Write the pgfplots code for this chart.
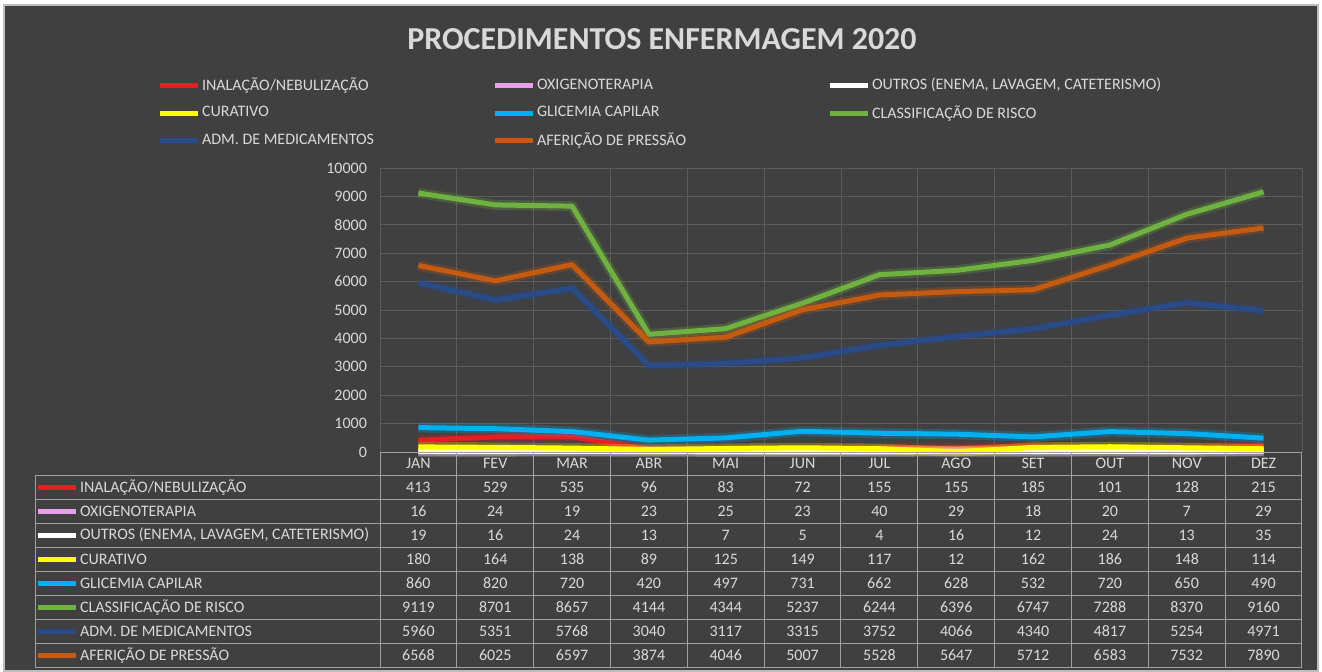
\documentclass[border=0pt]{standalone}
\usepackage{pgfplots}
\usepackage{pgfplotstable}
\usepackage{fontspec}
\setmainfont{Carlito}
\pgfplotsset{compat=1.18}

\definecolor{fundo}{RGB}{64,64,64}
\definecolor{borda}{RGB}{190,190,190}
\definecolor{texto}{RGB}{217,217,217}
\definecolor{grade}{RGB}{92,92,92}
\definecolor{linha}{RGB}{160,160,160}
\definecolor{cinal}{RGB}{230,30,35}
\definecolor{coxi}{RGB}{232,160,232}
\definecolor{cout}{RGB}{255,255,255}
\definecolor{ccur}{RGB}{255,255,0}
\definecolor{cgli}{RGB}{0,176,240}
\definecolor{ccla}{RGB}{112,178,64}
\definecolor{cadm}{RGB}{42,75,138}
\definecolor{cafe}{RGB}{197,90,17}

% m = posicao do mes no eixo
\pgfplotstableread{
m  mes inal oxi out cur gli cla  adm  afe
0  JAN 413  16  19  180 860 9119 5960 6568
1  FEV 529  24  16  164 820 8701 5351 6025
2  MAR 535  19  24  138 720 8657 5768 6597
3  ABR 96   23  13  89  420 4144 3040 3874
4  MAI 83   25  7   125 497 4344 3117 4046
5  JUN 72   23  5   149 731 5237 3315 5007
6  JUL 155  40  4   117 662 6244 3752 5528
7  AGO 155  29  16  12  628 6396 4066 5647
8  SET 185  18  12  162 532 6747 4340 5712
9  OUT 101  20  24  186 720 7288 4817 6583
10 NOV 128  7   13  148 650 8370 5254 7532
11 DEZ 215  29  35  114 490 9160 4971 7890
}\dados

\newcommand{\fonte}{\fontsize{8}{9.5}\selectfont}
\newcommand{\serie}[3]{%
  \addplot[#2, line width=5pt, opacity=0.25, forget plot] table[x=m,y=#1]{\dados};
  \addplot[#2, line width=2.5pt] table[x=m,y=#1]{\dados};
  \addlegendentry{\makebox[144pt][l]{#3}}}

\begin{document}
\begin{tikzpicture}
\begin{scope}[x=0.5pt,y=-0.5pt]
\fill[white] (0,0) rectangle (1322,671);
\fill[fundo, draw=borda, line width=0.6pt] (4,5) rectangle (1318,671);
\node[text=texto, font=\fontsize{16}{19}\selectfont\bfseries] at (662,39) {PROCEDIMENTOS ENFERMAGEM 2020};
\end{scope}

\begin{axis}[
    at={(190pt,-226pt)}, anchor=south west,
    scale only axis, width=461pt, height=142pt,
    xmin=-0.5, xmax=11.5, ymin=0, ymax=10000,
    xtick={-0.5,0.5,...,11.5}, xticklabels={},
    ytick={0,1000,...,10000},
    scaled y ticks=false,
    major tick length=0pt,
    xmajorgrids, ymajorgrids,
    major grid style={grade, line width=0.5pt},
    axis line style={draw=none},
    clip=false,
    /pgf/number format/assume math mode=true,
    /pgf/number format/1000 sep={},
    yticklabel style={font=\fonte, text=texto, xshift=-3pt},
    every axis plot/.append style={line join=round},
    legend columns=3,
    legend cell align=left,
    legend style={at={(-0.2422,1.327)}, anchor=north west, draw=none, fill=none,
        text=texto, font=\fonte, column sep=0pt, row sep=4pt, inner sep=0pt,
        nodes={inner sep=1pt}},
    legend image code/.code={\draw[#1] (0pt,0pt) -- (19pt,0pt);},
]
\serie{inal}{cinal}{INALAÇÃO/NEBULIZAÇÃO}
\serie{oxi}{coxi}{OXIGENOTERAPIA}
\serie{out}{cout}{OUTROS (ENEMA, LAVAGEM, CATETERISMO)}
\serie{cur}{ccur}{CURATIVO}
\serie{gli}{cgli}{GLICEMIA CAPILAR}
\serie{cla}{ccla}{CLASSIFICAÇÃO DE RISCO}
\serie{adm}{cadm}{ADM. DE MEDICAMENTOS}
\serie{afe}{cafe}{AFERIÇÃO DE PRESSÃO}
\end{axis}

% tabela de dados
\begin{scope}[x=0.5pt,y=-0.5pt, font=\fonte, text=texto]
\draw[linha, line width=0.5pt] (380,452) -- (1302,452);
\foreach \k in {0,...,8} \draw[linha, line width=0.5pt] (35,475+24*\k) -- (1302,475+24*\k);
\foreach \k in {0,...,12} \draw[linha, line width=0.5pt] (380+76.83*\k,452) -- (380+76.83*\k,667);
\draw[linha, line width=0.5pt] (35,475) -- (35,667);
\foreach \i in {0,...,11}{
  \pgfplotstablegetelem{\i}{mes}\of\dados
  \node at (418.4+76.83*\i,463.5) {\pgfplotsretval};
  \foreach \c [count=\j from 0] in {inal,oxi,out,cur,gli,cla,adm,afe}{
    \pgfplotstablegetelem{\i}{\c}\of\dados
    \node at (418.4+76.83*\i,487+24*\j) {\pgfplotsretval};
  }
}
\foreach \cor [count=\j from 0] in {cinal,coxi,cout,ccur,cgli,ccla,cadm,cafe}
  \draw[\cor, line width=2.5pt] (38,487+24*\j) -- (76,487+24*\j);
\node[anchor=west] at (73,487) {INALAÇÃO/NEBULIZAÇÃO};
\node[anchor=west] at (73,511) {OXIGENOTERAPIA};
\node[anchor=west] at (73,535) {OUTROS (ENEMA, LAVAGEM, CATETERISMO)};
\node[anchor=west] at (73,559) {CURATIVO};
\node[anchor=west] at (73,583) {GLICEMIA CAPILAR};
\node[anchor=west] at (73,607) {CLASSIFICAÇÃO DE RISCO};
\node[anchor=west] at (73,631) {ADM. DE MEDICAMENTOS};
\node[anchor=west] at (73,655) {AFERIÇÃO DE PRESSÃO};
\end{scope}
\end{tikzpicture}
\end{document}
